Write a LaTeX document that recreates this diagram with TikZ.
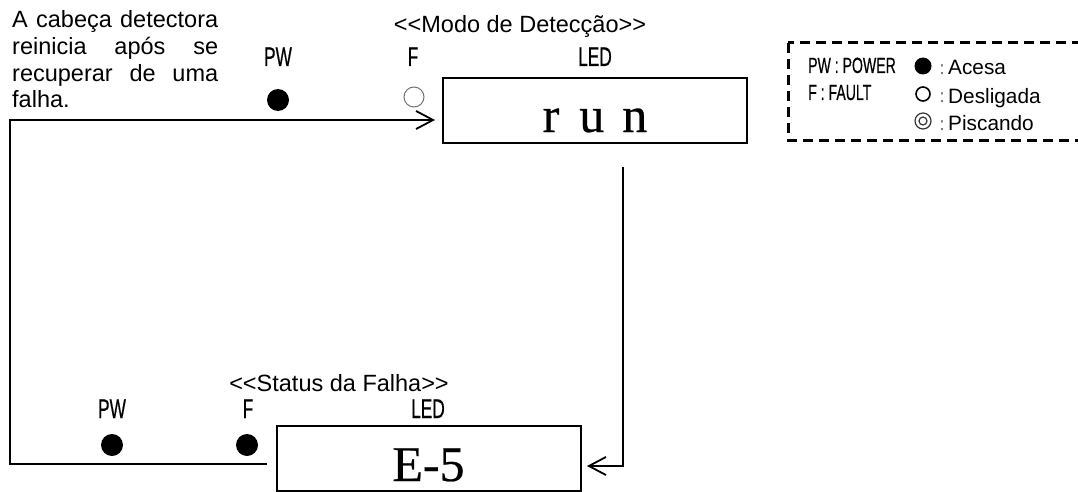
\documentclass[tikz,border=0pt]{standalone}
\usepackage{fontspec}
\usepackage{graphicx}
\usetikzlibrary{arrows.meta}
\newfontfamily\arial{Liberation Sans}
\newfontfamily\narrowface[FakeBold=0.6]{Liberation Sans}
\newfontfamily\ledface[FakeBold=0.5]{Liberation Serif}
% narrow label face: Liberation Sans squeezed horizontally
\newcommand\cnd[2]{\scalebox{0.64}[1]{\fontsize{#1}{#1}\narrowface\selectfont #2}}
\tikzset{
  txt/.style={inner sep=0pt, font=\arial\fontsize{23.5}{26}\selectfont},
  small/.style={inner sep=0pt, font=\arial\fontsize{20.8}{24}\selectfont},
  lamp/.style={circle, fill=black, inner sep=0pt, minimum size=22pt},
  lampoff/.style={circle, draw=black!55, line width=1pt, inner sep=0pt, minimum size=20pt},
  ledbox/.style={draw, line width=2pt, inner sep=0pt, minimum width=304pt, minimum height=65pt},
  ledtext/.style={inner sep=0pt, font=\ledface\fontsize{50}{50}\selectfont},
  conn/.style={line width=2pt, line join=miter},
  openarrow/.style={-{Straight Barb[length=17pt,width=18pt,line width=1.8pt]}},
  legendframe/.style={line width=3pt, dash pattern=on 10pt off 6pt},
}
\begin{document}
\begin{tikzpicture}[x=1pt, y=-1pt]
\useasboundingbox (0,0) rectangle (1078,492);
\clip (0,0) rectangle (1078,492);

% explanatory note, justified lines
\node[txt, anchor=base west] (note1) at (12,28) {\makebox[206pt][s]{A cabeça detectora}};
\node[txt, anchor=base west] (note2) at (12,55) {\makebox[206pt][s]{reinicia após se}};
\node[txt, anchor=base west] (note3) at (12,82) {\makebox[206pt][s]{recuperar de uma}};
\node[txt, anchor=base west] (note4) at (12,108) {falha.};

% detection mode panel
\node[txt, anchor=base] (modetitle) at (520,33) {<\kern0pt<Modo de Detecção>\kern0pt>};
\node[inner sep=0pt, anchor=base] (pwlabA) at (278,66) {\cnd{27}{PW}};
\node[inner sep=0pt, anchor=base] (flabA) at (413,66) {\cnd{27}{F}};
\node[inner sep=0pt, anchor=base] (ledlabA) at (595,66) {\cnd{27}{LED}};
\node[lamp] (pwA) at (278,100) {};
\node[lampoff] (fA) at (414,97) {};
\node[ledbox] (runbox) at (595,110.5) {};
\node[ledtext, anchor=base] (runtext) at (595,132) {r\hspace{20pt}u\hspace{18pt}n};

% fault status panel
\node[txt, anchor=base] (faulttitle) at (339,391) {<\kern0pt<Status da Falha>\kern0pt>};
\node[inner sep=0pt, anchor=base] (pwlabB) at (112,418) {\cnd{27}{PW}};
\node[inner sep=0pt, anchor=base] (flabB) at (248,418) {\cnd{27}{F}};
\node[inner sep=0pt, anchor=base] (ledlabB) at (428,418) {\cnd{27}{LED}};
\node[lamp] (pwB) at (112,445) {};
\node[lamp] (fB) at (247,445) {};
\node[ledbox] (errbox) at (428.5,458.5) {};
\node[ledtext, anchor=base] (errtext) at (428.5,481) {E-5};

% transitions
\coordinate (loopstart) at (267,464);
\coordinate (loopbottom) at (10,464);
\coordinate (looptop) at (10,120);
\coordinate (runin) at (435,120);
\draw[conn, openarrow] (loopstart) -- (loopbottom) -- (looptop) -- (runin);

\coordinate (dropstart) at (623,167);
\coordinate (dropcorner) at (623,466);
\coordinate (errin) at (587,466);
\draw[conn, openarrow] (dropstart) -- (dropcorner) -- (errin);

% legend
\draw[legendframe] (788,43) rectangle (1110,140);
\node[inner sep=0pt, anchor=base west] (keypw) at (808,73) {\cnd{22}{PW : POWER}};
\node[inner sep=0pt, anchor=base west] (keyf) at (808,100) {\cnd{22}{F : FAULT}};
\node[circle, fill=black, inner sep=0pt, minimum size=17pt] (symon) at (923,66) {};
\node[circle, draw=black, line width=1.6pt, inner sep=0pt, minimum size=14pt] (symoff) at (923,94) {};
\node[circle, draw=black!80, line width=1.2pt, inner sep=0pt, minimum size=16pt] (symblink) at (923,121) {};
\node[circle, draw=black!80, line width=1.2pt, inner sep=0pt, minimum size=8pt] (symblinkin) at (923,121) {};
\node[inner sep=0pt, anchor=base] (colon1) at (942,74) {\cnd{18}{\color{black!70}:}};
\node[inner sep=0pt, anchor=base] (colon2) at (942,102) {\cnd{18}{\color{black!70}:}};
\node[inner sep=0pt, anchor=base] (colon3) at (942,130) {\cnd{18}{\color{black!70}:}};
\node[small, anchor=base west] (keyon) at (948,75) {Acesa};
\node[small, anchor=base west] (keyoff) at (948,103) {Desligada};
\node[small, anchor=base west] (keyblink) at (948,131) {Piscando};
\end{tikzpicture}
\end{document}
